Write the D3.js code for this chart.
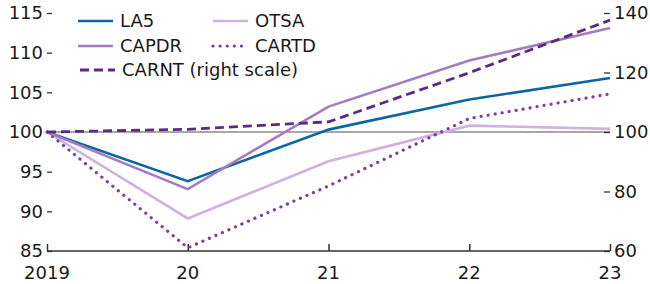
<!DOCTYPE html>
<html><head><meta charset="utf-8">
<script src="https://cdn.jsdelivr.net/npm/d3@7"></script>
<style>body{margin:0;background:#fff}svg{display:block}text{font-family:"DejaVu Sans",sans-serif;fill:#1a1a1a}</style>
</head><body>
<script>
const years = ["2019","20","21","22","23"];
const LA5   = [100, 93.8, 100.3, 104.1, 106.8];
const CAPDR = [100, 92.8, 103.2, 109.0, 113.1];
const OTSA  = [100, 89.1, 96.3, 100.8, 100.4];
const CARTD = [100, 85.4, 93.2, 101.7, 104.8];
const CARNT = [100, 100.9, 103.4, 119.9, 137.6];
const leftTicks = [85, 90, 95, 100, 105, 110, 115];
const rightTicks = [60, 80, 100, 120, 140];

const W = 650, H = 284;
const svg = d3.select("body").append("svg").attr("width", W).attr("height", H);
const x = d3.scalePoint().domain(years).range([47, 610]);
const yL = d3.scaleLinear().domain([85, 115]).range([251, 13]);
const yR = d3.scaleLinear().domain([60, 140]).range([251, 13]);
const fs = "18px";

// gridline at 100
svg.append("line").attr("x1", 47).attr("x2", 610).attr("y1", yL(100)).attr("y2", yL(100))
  .attr("stroke", "#8a8a8a").attr("stroke-width", 1.5);

// left axis
const gL = svg.append("g").attr("transform", "translate(47,0)")
  .call(d3.axisRight(yL).tickValues(leftTicks).tickSize(5).tickPadding(0));
gL.select(".domain").remove();
gL.selectAll(".tick line").attr("stroke", "#333").attr("stroke-width", 1.3);
gL.selectAll(".tick text").attr("x", -4).attr("text-anchor", "end").style("font-size", fs);

// right axis
const gR = svg.append("g").attr("transform", "translate(610,0)")
  .call(d3.axisLeft(yR).tickValues(rightTicks).tickSize(6).tickPadding(0));
gR.select(".domain").remove();
gR.selectAll(".tick line").attr("stroke", "#333").attr("stroke-width", 1.3);
gR.selectAll(".tick text").attr("x", 4).attr("text-anchor", "start").style("font-size", fs);

// x axis
const gX = svg.append("g").attr("transform", "translate(0,251)")
  .call(d3.axisTop(x).tickSize(7).tickFormat(""));
gX.select(".domain").attr("d", "M47,0H610").attr("stroke", "#333").attr("stroke-width", 1.5);
gX.selectAll(".tick line").attr("stroke", "#333").attr("stroke-width", 1.5);
svg.append("g").selectAll("text").data(years).join("text")
  .attr("x", d => x(d)).attr("y", 278.5).attr("text-anchor", "middle").style("font-size", fs).text(d => d);

const series = [
  {name:"OTSA", data:OTSA, y:yL, color:"#cfb2de", dash:null, w:2.6},
  {name:"CARTD", data:CARTD, y:yL, color:"#7d41a3", dash:"0.1 7", w:3.2, cap:"round"},
  {name:"LA5", data:LA5, y:yL, color:"#0b67a3", dash:null, w:2.6},
  {name:"CAPDR", data:CAPDR, y:yL, color:"#a57cc0", dash:null, w:2.6},
  {name:"CARNT (right scale)", data:CARNT, y:yR, color:"#5c2a86", dash:"9 5", w:2.8},
];
series.forEach(s => {
  const line = d3.line().x((d,i) => x(years[i])).y(d => s.y(d));
  svg.append("path").datum(s.data).attr("d", line).attr("fill", "none")
    .attr("stroke", s.color).attr("stroke-width", s.w)
    .attr("stroke-dasharray", s.dash).attr("stroke-linecap", s.cap || "butt")
    .attr("stroke-linejoin", "miter");
});

// legend
const byName = n => series.find(s => s.name === n);
const leg = [
  {n:"LA5", lx:78, ly:21}, {n:"OTSA", lx:213, ly:21},
  {n:"CAPDR", lx:78, ly:46}, {n:"CARTD", lx:213, ly:46},
  {n:"CARNT (right scale)", lx:80, ly:70},
];
leg.forEach(l => {
  const s = byName(l.n);
  svg.append("line").attr("x1", l.lx).attr("x2", l.lx + 35).attr("y1", l.ly).attr("y2", l.ly)
    .attr("stroke", s.color).attr("stroke-width", s.w)
    .attr("stroke-dasharray", s.dash).attr("stroke-linecap", s.cap || "butt");
  svg.append("text").attr("x", l.lx + 42).attr("y", l.ly).attr("dy", "0.36em")
    .style("font-size", fs).text(l.n);
});
</script>
</body></html>
